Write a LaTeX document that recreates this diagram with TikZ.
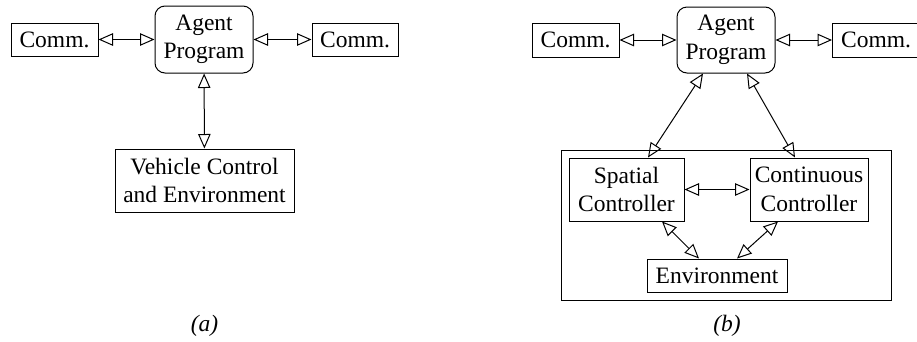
\documentclass[tikz,border=0pt]{standalone}
\usepackage{fontspec}
\setmainfont{Liberation Serif}
\usetikzlibrary{arrows.meta}
\begin{document}
\begin{tikzpicture}[x=1pt,y=-1pt,
  every node/.style={font=\fontsize{23.5}{28.5}\selectfont},
  box/.style={draw,line width=1pt,inner sep=0pt,align=center},
  rbox/.style={box,rounded corners=10pt},
  biarrow/.style={line width=1pt,{Triangle[open,length=14.5pt,width=12.5pt]}-{Triangle[open,length=14.5pt,width=12.5pt]}},
  caption/.style={font=\fontsize{23.5}{28.5}\selectfont\itshape}]
\useasboundingbox (0,0) rectangle (917,341);
% (a)
\node[box,minimum width=87pt,minimum height=33pt] (ca1) at (54.5,39.5) {Comm.};
\node[rbox,minimum width=98pt,minimum height=67pt] (ap1) at (204,39.5) {Agent\\Program};
\node[box,minimum width=86pt,minimum height=33pt] (cb1) at (355,39.5) {Comm.};
\node[box,minimum width=179pt,minimum height=63pt] (vc) at (204.5,180.5) {Vehicle Control\\and Environment};
\draw[biarrow] (ca1) -- (ap1);
\draw[biarrow] (ap1) -- (cb1);
\draw[biarrow] (ap1) -- (vc);
\node[caption] (capa) at (204.5,326) {(a)};
% (b)
\node[box,minimum width=87pt,minimum height=34pt] (ca2) at (575.5,40) {Comm.};
\node[rbox,minimum width=98pt,minimum height=66pt] (ap2) at (726,40) {Agent\\Program};
\node[box,minimum width=87pt,minimum height=34pt] (cb2) at (876,40) {Comm.};
\node[box,minimum width=330pt,minimum height=150pt] (frame) at (726,225) {};
\node[box,minimum width=115pt,minimum height=63pt] (sp) at (626.5,189.5) {Spatial\\Controller};
\node[box,minimum width=118pt,minimum height=63pt] (cc) at (809,189.5) {Continuous\\Controller};
\node[box,minimum width=140pt,minimum height=33pt] (env) at (717,275.5) {Environment};
\draw[biarrow] (ca2) -- (ap2);
\draw[biarrow] (ap2) -- (cb2);
\draw[biarrow] ([xshift=-23pt]ap2.south) -- ([xshift=21.5pt]sp.north);
\draw[biarrow] ([xshift=21pt]ap2.south) -- ([xshift=-14pt]cc.north);
\draw[biarrow] (sp) -- (cc);
\draw[biarrow] ([xshift=35.5pt]sp.south) -- ([xshift=-18pt]env.north);
\draw[biarrow] ([xshift=-31pt]cc.south) -- ([xshift=20pt]env.north);
\node[caption] (capb) at (727,326) {(b)};
\end{tikzpicture}
\end{document}
